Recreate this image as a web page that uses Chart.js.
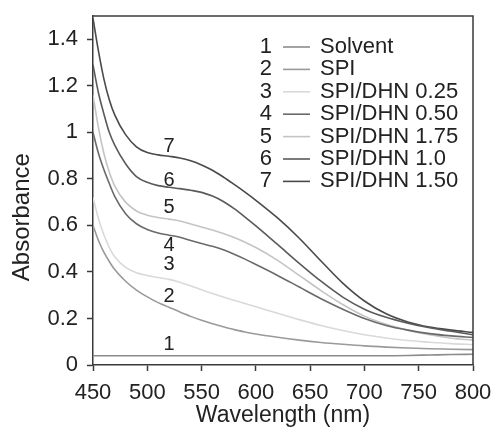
<!DOCTYPE html>
<html>
<head>
<meta charset="utf-8">
<script src="https://cdn.jsdelivr.net/npm/chart.js@4.4.0/dist/chart.umd.min.js"></script>
<style>
  html, body { margin: 0; padding: 0; background: #fff; }
  #wrap { position: relative; width: 496px; height: 438px; }
</style>
</head>
<body>
<div id="wrap"><canvas id="c" width="496" height="438"></canvas></div>
<script>
// ---- data ----
const wavelengths = [450,455,460,465,470,480,490,500,510,520,530,540,550,560,570,580,590,600,620,640,660,680,700,720,740,760,780,800];
const seriesNames = ['Solvent','SPI','SPI/DHN 0.25','SPI/DHN 0.50','SPI/DHN 1.75','SPI/DHN 1.0','SPI/DHN 1.50'];
const seriesNumbers = ['1','2','3','4','5','6','7'];
const solvent   = [0.04,0.04,0.04,0.04,0.04,0.04,0.04,0.04,0.04,0.04,0.04,0.04,0.04,0.04,0.04,0.04,0.04,0.04,0.04,0.04,0.04,0.04,0.04,0.04,0.041,0.043,0.045,0.046];
const spi       = [0.60,0.535,0.485,0.445,0.41,0.36,0.322,0.293,0.268,0.248,0.228,0.209,0.192,0.177,0.164,0.152,0.142,0.133,0.119,0.107,0.097,0.089,0.082,0.077,0.073,0.07,0.068,0.066];
const dhn025    = [0.72,0.63,0.56,0.505,0.465,0.42,0.397,0.385,0.376,0.368,0.356,0.34,0.323,0.307,0.292,0.278,0.264,0.25,0.222,0.195,0.17,0.148,0.13,0.116,0.105,0.098,0.092,0.088];
const dhn050    = [1.00,0.91,0.84,0.78,0.725,0.65,0.607,0.582,0.567,0.558,0.549,0.535,0.522,0.51,0.495,0.476,0.455,0.432,0.385,0.335,0.285,0.24,0.20,0.17,0.15,0.135,0.125,0.118];
const dhn175    = [1.16,1.02,0.91,0.83,0.77,0.70,0.662,0.644,0.634,0.627,0.619,0.606,0.593,0.58,0.565,0.548,0.528,0.505,0.45,0.385,0.32,0.26,0.21,0.175,0.15,0.13,0.115,0.107];
const dhn100    = [1.29,1.17,1.08,1.00,0.945,0.865,0.81,0.785,0.771,0.764,0.758,0.751,0.742,0.726,0.703,0.672,0.636,0.598,0.518,0.437,0.36,0.292,0.24,0.205,0.18,0.16,0.145,0.13];
const dhn150    = [1.49,1.35,1.23,1.14,1.075,0.99,0.938,0.913,0.903,0.897,0.89,0.878,0.86,0.837,0.808,0.776,0.743,0.708,0.632,0.545,0.447,0.352,0.275,0.22,0.185,0.163,0.15,0.14];
const allSeries = [solvent, spi, dhn025, dhn050, dhn175, dhn100, dhn150];
const xTicks = [450,500,550,600,650,700,750,800];
const yTicks = [0,0.2,0.4,0.6,0.8,1,1.2,1.4];
// curve number labels: wavelength and absorbance anchor for each number
const labelWavelength = 520;
const labelAbsorbance = [0.09,0.296,0.433,0.514,0.678,0.793,0.939];

// ---- styles ----
const lineColors = ['#8c8c8c','#9a9a9a','#d9d9d9','#6a6a6a','#c4c4c4','#5a5a5a','#4a4a4a'];
const FONT = '"Liberation Sans", Arial, Helvetica, sans-serif';
const axisColor = '#3a3a3a';

const datasets = allSeries.map((arr, i) => ({
  label: seriesNames[i],
  data: wavelengths.map((w, j) => ({x: w, y: arr[j]})),
  borderColor: lineColors[i],
  backgroundColor: lineColors[i],
  borderWidth: 1.6,
  pointRadius: 0,
  fill: false,
  cubicInterpolationMode: 'monotone'
}));

const framePlugin = {
  id: 'frame',
  afterDraw(chart) {
    const {ctx, chartArea: a, scales} = chart;
    ctx.save();
    // top & right frame
    ctx.strokeStyle = axisColor;
    ctx.lineWidth = 1.5;
    ctx.beginPath();
    ctx.moveTo(a.left, a.top);
    ctx.lineTo(a.right, a.top);
    ctx.lineTo(a.right, a.bottom);
    ctx.stroke();
    // curve numbers
    ctx.fillStyle = '#222';
    ctx.font = '20px ' + FONT;
    ctx.textAlign = 'center';
    ctx.textBaseline = 'middle';
    labelAbsorbance.forEach((v, i) => {
      ctx.fillText(seriesNumbers[i], scales.x.getPixelForValue(labelWavelength), scales.y.getPixelForValue(v));
    });
    // legend
    const rowTop = a.top + 31, rowStep = 22.4;
    ctx.font = '22px ' + FONT;
    seriesNames.forEach((name, i) => {
      const y = rowTop + i * rowStep;
      ctx.fillStyle = '#222';
      ctx.textAlign = 'right';
      ctx.fillText(seriesNumbers[i], a.left + 179, y);
      ctx.strokeStyle = lineColors[i];
      ctx.lineWidth = 1.6;
      ctx.beginPath();
      ctx.moveTo(a.left + 190, y);
      ctx.lineTo(a.left + 217, y);
      ctx.stroke();
      ctx.textAlign = 'left';
      ctx.fillText(name, a.left + 227, y);
    });
    ctx.restore();
  }
};

new Chart(document.getElementById('c'), {
  type: 'line',
  data: { datasets },
  options: {
    responsive: false,
    animation: false,
    devicePixelRatio: 1,
    layout: { padding: { top: 16, right: 23, left: 0, bottom: 0 } },
    plugins: { legend: { display: false }, tooltip: { enabled: false } },
    scales: {
      x: {
        type: 'linear',
        min: 450, max: 800,
        afterBuildTicks: s => { s.ticks = xTicks.map(v => ({value: v})); },
        afterFit: s => { s.height = 73; s.paddingLeft = 0; s.paddingRight = 0; },
        grid: { drawOnChartArea: false, drawTicks: true, tickLength: 6, color: axisColor, tickWidth: 1.5 },
        border: { display: true, color: axisColor, width: 1.5 },
        ticks: { color: '#222', font: { size: 22, family: FONT }, padding: 9, maxRotation: 0,
                 callback: v => String(v) },
        title: { display: true, text: 'Wavelength (nm)', color: '#222', font: { size: 23, family: FONT }, padding: { top: 0, bottom: 9 } }
      },
      y: {
        type: 'linear',
        min: 0, max: 1.5,
        afterBuildTicks: s => { s.ticks = yTicks.map(v => ({value: v})); },
        afterFit: s => { s.width = 93; s.paddingTop = 0; s.paddingBottom = 0; },
        grid: { drawOnChartArea: false, drawTicks: true, tickLength: 6, color: axisColor, tickWidth: 1.5 },
        border: { display: true, color: axisColor, width: 1.5 },
        ticks: { color: '#222', font: { size: 22, family: FONT }, padding: 9,
                 callback: v => String(Math.round(v * 10) / 10) },
        title: { display: true, text: 'Absorbance        ', color: '#222', font: { size: 24, family: FONT }, padding: { top: 8, bottom: 0 } }
      }
    }
  },
  plugins: [framePlugin]
});
</script>
</body>
</html>
